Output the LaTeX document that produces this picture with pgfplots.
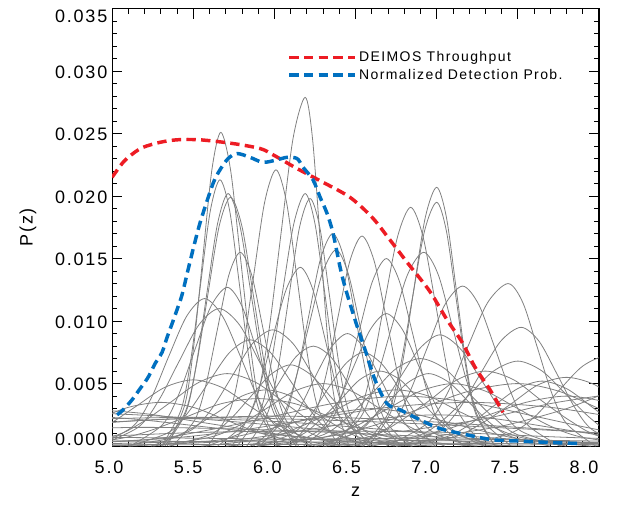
\documentclass[border=0pt]{standalone}
\usepackage{fontspec}
\setmainfont{Liberation Sans}[LetterSpace=10]
\usepackage{pgfplots}
\pgfplotsset{compat=1.18}
\definecolor{pzgray}{RGB}{128,128,128}
\definecolor{dred}{RGB}{237,28,36}
\definecolor{dblue}{RGB}{0,112,192}
\begin{document}
\begin{tikzpicture}
\begin{axis}[
  scale only axis, width=365pt, height=328pt,
  xmin=5, xmax=8, ymin=0, ymax=0.035,
  xtick={5,5.5,6,6.5,7,7.5,8},
  ytick={0,0.005,0.01,0.015,0.02,0.025,0.03,0.035},
  minor x tick num=4, minor y tick num=4,
  tick align=inside, tick pos=both,
  major tick length=7.5pt, minor tick length=3.8pt,
  every tick/.style={black, line width=0.6pt},
  axis line style={black, line width=0.8pt},
  scaled y ticks=false,
  /pgf/number format/assume math mode=true,
  xticklabel style={/pgf/number format/.cd, fixed, fixed zerofill, precision=1, /tikz/.cd, yshift=-7.5pt, xshift={(-2.25-1.5*\ticknum)*1pt}},
  yticklabel style={/pgf/number format/.cd, fixed, fixed zerofill, precision=3, /tikz/.cd, yshift={ifthenelse(\ticknum==0,4.9,ifthenelse(\ticknum==7,-6,-0.75))*1pt}},
  ticklabel style={font=\fontsize{13.5}{16}\selectfont},
  xlabel={z}, ylabel={P(z)},
  label style={font=\fontsize{13.5}{16}\selectfont},
  xlabel style={at={(axis description cs:0.5,-0.105)}, anchor=center},
  ylabel style={at={(axis description cs:-0.1725,0.5)}, anchor=center, rotate=0},
  legend style={draw=none, fill=none, at={(axis cs:6.08,0.0318)}, anchor=north west,
    font=\fontsize{10.5}{12}\selectfont, row sep=0pt, inner sep=0pt},
  legend cell align=left,
  legend image code/.code={\path (0pt,0pt) -- (49pt,0pt);\draw[#1] (0pt,0pt) -- (39pt,0pt);},
  pz/.style={color=pzgray, line width=0.6pt, smooth},
]
% ---- gray P(z) curves ----
\addplot[pz,forget plot] coordinates {(5.34,0)(5.45,.0034)(5.505,.0082)(5.56,.0152)(5.615,.0221)(5.67,.0251)(5.73,.0221)(5.79,.0152)(5.85,.0082)(5.91,.0034)(6.03,0)};
\addplot[pz,forget plot] coordinates {(5.305,0)(5.425,.0029)(5.485,.0069)(5.545,.0129)(5.605,.0188)(5.665,.0213)(5.725,.0188)(5.785,.0129)(5.845,.0069)(5.905,.0029)(6.025,0)};
\addplot[pz,forget plot] coordinates {(5.325,0)(5.455,.0027)(5.52,.0066)(5.585,.0123)(5.65,.0178)(5.715,.0202)(5.785,.0178)(5.855,.0123)(5.925,.0066)(5.995,.0027)(6.135,0)};
\addplot[pz,forget plot] coordinates {(5.31,0)(5.45,.0027)(5.52,.0065)(5.59,.0121)(5.66,.0176)(5.73,.0199)(5.80,.0176)(5.87,.0121)(5.94,.0065)(6.01,.0027)(6.15,0)};
\addplot[pz,forget plot] coordinates {(5.37,0)(5.51,.0021)(5.58,.0050)(5.65,.0094)(5.72,.0137)(5.79,.0155)(5.86,.0137)(5.93,.0094)(6.00,.0050)(6.07,.0021)(6.21,0)};
\addplot[pz,forget plot] coordinates {(5.11,0)(5.31,.0017)(5.41,.0041)(5.51,.0077)(5.61,.0112)(5.71,.0127)(5.80,.0112)(5.89,.0077)(5.98,.0041)(6.07,.0017)(6.25,0)};
\addplot[pz,forget plot] coordinates {(5.59,0)(5.73,.0030)(5.80,.0072)(5.87,.0134)(5.94,.0195)(6.01,.0221)(6.075,.0195)(6.14,.0134)(6.205,.0072)(6.27,.0030)(6.40,0)};
\addplot[pz,forget plot] coordinates {(5.74,0)(5.89,.0038)(5.965,.0091)(6.04,.0169)(6.115,.0246)(6.19,.0279)(6.235,.0246)(6.28,.0169)(6.325,.0091)(6.37,.0038)(6.46,0)};
\addplot[pz,forget plot] coordinates {(5.77,0)(5.91,.0027)(5.98,.0066)(6.05,.0123)(6.12,.0178)(6.19,.0202)(6.25,.0178)(6.31,.0123)(6.37,.0066)(6.43,.0027)(6.55,0)};
\addplot[pz,forget plot] coordinates {(5.83,0)(5.96,.0027)(6.025,.0064)(6.09,.0120)(6.155,.0175)(6.22,.0198)(6.28,.0175)(6.34,.0120)(6.40,.0064)(6.46,.0027)(6.58,0)};
\addplot[pz,forget plot] coordinates {(5.65,0)(5.82,.0019)(5.905,.0046)(5.99,.0087)(6.075,.0126)(6.16,.0143)(6.235,.0126)(6.31,.0087)(6.385,.0046)(6.46,.0019)(6.61,0)};
\addplot[pz,forget plot] coordinates {(5.91,0)(6.06,.0023)(6.135,.0055)(6.21,.0103)(6.285,.0150)(6.36,.0170)(6.43,.0150)(6.50,.0103)(6.57,.0055)(6.64,.0023)(6.78,0)};
\addplot[pz,forget plot] coordinates {(5.87,0)(6.04,.0021)(6.125,.0051)(6.21,.0095)(6.295,.0138)(6.38,.0157)(6.455,.0138)(6.53,.0095)(6.605,.0051)(6.68,.0021)(6.83,0)};
\addplot[pz,forget plot] coordinates {(6.09,0)(6.24,.0023)(6.315,.0055)(6.39,.0102)(6.465,.0148)(6.54,.0168)(6.615,.0148)(6.69,.0102)(6.765,.0055)(6.84,.0023)(6.99,0)};
\addplot[pz,forget plot] coordinates {(6.18,0)(6.35,.0020)(6.435,.0049)(6.52,.0091)(6.605,.0132)(6.69,.0150)(6.77,.0132)(6.85,.0091)(6.93,.0049)(7.01,.0020)(7.17,0)};
\addplot[pz,forget plot] coordinates {(6.36,0)(6.52,.0026)(6.60,.0062)(6.68,.0116)(6.76,.0168)(6.84,.0191)(6.915,.0168)(6.99,.0116)(7.065,.0062)(7.14,.0026)(7.29,0)};
\addplot[pz,forget plot] coordinates {(6.58,0)(6.72,.0028)(6.79,.0067)(6.86,.0126)(6.93,.0183)(7.00,.0207)(7.06,.0183)(7.12,.0126)(7.18,.0067)(7.24,.0028)(7.36,0)};
\addplot[pz,forget plot] coordinates {(6.55,0)(6.70,.0026)(6.775,.0063)(6.85,.0118)(6.925,.0172)(7.00,.0195)(7.06,.0172)(7.12,.0118)(7.18,.0063)(7.24,.0026)(7.36,0)};
\addplot[pz,forget plot] coordinates {(6.32,0)(6.52,.0021)(6.62,.0050)(6.72,.0094)(6.82,.0137)(6.92,.0155)(7.01,.0137)(7.10,.0094)(7.19,.0050)(7.28,.0021)(7.46,0)};
\addplot[pz,forget plot] coordinates {(6.50,0)(6.72,.0017)(6.83,.0042)(6.94,.0078)(7.05,.0113)(7.16,.0128)(7.26,.0113)(7.36,.0078)(7.46,.0042)(7.56,.0017)(7.76,0)};
\addplot[pz,forget plot] coordinates {(6.69,0)(6.94,.0018)(7.065,.0042)(7.19,.0079)(7.315,.0115)(7.44,.0130)(7.53,.0115)(7.62,.0079)(7.71,.0042)(7.80,.0018)(7.98,0)};
\addplot[pz,forget plot] coordinates {(4.91,0)(5.13,.0016)(5.24,.0038)(5.35,.0072)(5.46,.0104)(5.57,.0118)(5.68,.0104)(5.79,.0072)(5.90,.0038)(6.01,.0016)(6.23,0)};
\addplot[pz,forget plot] coordinates {(6.77,0)(7.02,.0013)(7.145,.0031)(7.27,.0058)(7.395,.0084)(7.52,.0095)(7.63,.0084)(7.74,.0058)(7.85,.0031)(7.96,.0013)(8.18,0)};
\addplot[pz,forget plot] coordinates {(6.27,0)(6.52,.0012)(6.645,.0029)(6.77,.0054)(6.895,.0078)(7.02,.0089)(7.145,.0078)(7.27,.0054)(7.395,.0029)(7.52,.0012)(7.77,0)};
\addplot[pz,forget plot] coordinates {(6.60,0)(6.90,.0009)(7.05,.0022)(7.20,.0041)(7.35,.0060)(7.50,.0068)(7.65,.0060)(7.80,.0041)(7.95,.0022)(8.10,.0009)(8.40,0)};
\addplot[pz,forget plot] coordinates {(7.15,0)(7.45,.0010)(7.60,.0023)(7.75,.0044)(7.90,.0064)(8.05,.0072)(8.20,.0064)(8.35,.0044)};
\addplot[pz,forget plot] coordinates {(4.91,0)(5.16,.0015)(5.285,.0036)(5.41,.0067)(5.535,.0097)(5.66,.0110)(5.785,.0097)(5.91,.0067)(6.035,.0036)(6.16,.0015)(6.41,0)};
\addplot[pz,forget plot] coordinates {(5.24,0)(5.49,.0013)(5.615,.0030)(5.74,.0056)(5.865,.0082)(5.99,.0093)(6.115,.0082)(6.24,.0056)(6.365,.0030)(6.49,.0013)(6.74,0)};
\addplot[pz,forget plot] coordinates {(5.10,0)(5.35,.0011)(5.475,.0028)(5.60,.0052)(5.725,.0075)(5.85,.0085)(5.975,.0075)(6.10,.0052)(6.225,.0028)(6.35,.0011)(6.60,0)};
\addplot[pz,forget plot] coordinates {(4.66,0)(5.01,.0008)(5.185,.0019)(5.36,.0035)(5.535,.0051)(5.71,.0058)(5.885,.0051)(6.06,.0035)(6.235,.0019)(6.41,.0008)(6.76,0)};
\addplot[pz,forget plot] coordinates {(4.45,0)(4.80,.0007)(4.975,.0017)(5.15,.0032)(5.325,.0047)(5.50,.0053)(5.675,.0047)(5.85,.0032)(6.025,.0017)(6.20,.0007)(6.55,0)};
\addplot[pz,forget plot] coordinates {(6.09,0)(6.29,.0014)(6.39,.0034)(6.49,.0064)(6.59,.0093)(6.69,.0106)(6.79,.0093)(6.89,.0064)(6.99,.0034)(7.09,.0014)(7.29,0)};
\addplot[pz,forget plot] coordinates {(5.58,0)(5.80,.0011)(5.91,.0026)(6.02,.0049)(6.13,.0071)(6.24,.0080)(6.35,.0071)(6.46,.0049)(6.57,.0026)(6.68,.0011)(6.90,0)};
\addplot[pz,forget plot] coordinates {(5.90,0)(6.15,.0008)(6.275,.0020)(6.40,.0036)(6.525,.0053)(6.65,.0060)(6.775,.0053)(6.90,.0036)(7.025,.0020)(7.15,.0008)(7.40,0)};
\addplot[pz,forget plot] coordinates {(5.85,0)(6.05,.0012)(6.15,.0029)(6.25,.0055)(6.35,.0079)(6.45,.0090)(6.55,.0079)(6.65,.0055)(6.75,.0029)(6.85,.0012)(7.05,0)};
\addplot[pz,forget plot] coordinates {(6.00,0)(6.30,.0009)(6.45,.0023)(6.60,.0042)(6.75,.0062)(6.90,.0070)(7.05,.0062)(7.20,.0042)(7.35,.0023)(7.50,.0009)(7.80,0)};
\addplot[pz,forget plot] coordinates {(6.25,0)(6.60,.0008)(6.775,.0020)(6.95,.0036)(7.125,.0053)(7.30,.0060)(7.475,.0053)(7.65,.0036)(7.825,.0020)(8.00,.0008)(8.35,0)};
\addplot[pz,forget plot] coordinates {(5.35,0)(5.60,.0009)(5.725,.0021)(5.85,.0039)(5.975,.0057)(6.10,.0065)(6.225,.0057)(6.35,.0039)(6.475,.0021)(6.60,.0009)(6.85,0)};
\addplot[pz,forget plot] coordinates {(5.55,0)(5.95,.0006)(6.15,.0015)(6.35,.0027)(6.55,.0040)(6.75,.0045)(6.95,.0040)(7.15,.0027)(7.35,.0015)(7.55,.0006)(7.95,0)};
\addplot[pz,forget plot] coordinates {(6.75,0)(7.10,.0007)(7.275,.0018)(7.45,.0033)(7.625,.0049)(7.80,.0055)(7.975,.0049)(8.15,.0033)};
\addplot[pz,forget plot] coordinates {(5.25,0)(5.60,.0007)(5.775,.0016)(5.95,.0030)(6.125,.0044)(6.30,.0050)(6.475,.0044)(6.65,.0030)(6.825,.0016)(7.00,.0007)(7.35,0)};
\addplot[pz,forget plot] coordinates {(4.10,0)(4.50,.0005)(4.70,.0011)(4.90,.0021)(5.10,.0031)(5.30,.0035)(5.50,.0031)(5.70,.0021)(5.90,.0011)(6.10,.0005)(6.50,0)};
\addplot[pz,forget plot] coordinates {(5.90,0)(6.30,.0007)(6.50,.0016)(6.70,.0030)(6.90,.0044)(7.10,.0050)(7.30,.0044)(7.50,.0030)(7.70,.0016)(7.90,.0007)(8.30,0)};
\addplot[pz,forget plot] coordinates {(6.20,0)(6.45,.0008)(6.575,.0019)(6.70,.0035)(6.825,.0051)(6.95,.0058)(7.075,.0051)(7.20,.0035)(7.325,.0019)(7.45,.0008)(7.70,0)};
\addplot[pz,forget plot] coordinates {(5.89,0)(6.11,.0010)(6.22,.0024)(6.33,.0046)(6.44,.0066)(6.55,.0075)(6.66,.0066)(6.77,.0046)(6.88,.0024)(6.99,.0010)(7.21,0)};
\addplot[pz,forget plot] coordinates {(6.75,0)(7.05,.0007)(7.20,.0017)(7.35,.0032)(7.50,.0046)(7.65,.0052)(7.80,.0046)(7.95,.0032)(8.10,.0017)};
\addplot[pz,forget plot] coordinates {(5.05,0)(5.35,.0006)(5.50,.0015)(5.65,.0027)(5.80,.0040)(5.95,.0045)(6.10,.0040)(6.25,.0027)(6.40,.0015)(6.55,.0006)(6.85,0)};
\addplot[pz,forget plot] coordinates {(3.75,.0008)(4.5,.0015)(5.25,.0021)(6.0,.0024)(6.75,.0021)(7.5,.0015)(8.25,.0008)(9.0,.0003)};
\addplot[pz,forget plot] coordinates {(4.0,.0007)(4.5,.0013)(5.0,.0019)(5.5,.0022)(6.1,.0019)(6.7,.0013)(7.3,.0007)(7.9,.0003)(9.1,0)};
\addplot[pz,forget plot] coordinates {(4.4,0)(5.2,.0005)(5.6,.0013)(6.0,.0024)(6.4,.0035)(6.8,.0040)(7.2,.0035)(7.6,.0024)(8.0,.0013)(8.4,.0005)};
\addplot[pz,forget plot] coordinates {(5.7,0)(6.3,.0007)(6.6,.0016)(6.9,.0030)(7.2,.0044)(7.5,.0050)(7.75,.0044)(8.0,.0030)(8.25,.0016)};
\addplot[pz,forget plot] coordinates {(4.2,0)(5.2,.0005)(5.7,.0011)(6.2,.0021)(6.7,.0031)(7.2,.0035)(7.7,.0031)(8.2,.0021)(8.7,.0011)};
\addplot[pz,forget plot] coordinates {(4.2,.0009)(4.7,.0013)(5.2,.0015)(5.95,.0013)(6.7,.0009)(7.45,.0005)(8.2,.0002)(9.7,0)};
\addplot[pz,forget plot] coordinates {(4.05,.0004)(4.8,.0007)(5.55,.0011)(6.3,.0012)(7.05,.0011)(7.8,.0007)(8.55,.0004)};
\addplot[pz,forget plot] coordinates {(6.3,0)(6.8,.0005)(7.05,.0013)(7.3,.0024)(7.55,.0035)(7.8,.0040)(8.05,.0035)(8.3,.0024)};
\addplot[pz,forget plot] coordinates {(5.1,0)(5.6,.0004)(5.85,.0010)(6.1,.0018)(6.35,.0026)(6.6,.0030)(6.85,.0026)(7.1,.0018)(7.35,.0010)(7.6,.0004)(8.1,0)};
\addplot[pz,forget plot] coordinates {(4.55,0)(5.0,.0005)(5.225,.0012)(5.45,.0023)(5.675,.0034)(5.9,.0038)(6.125,.0034)(6.35,.0023)(6.575,.0012)(6.8,.0005)(7.25,0)};
\addplot[pz,forget plot] coordinates {(4.9,0)(5.6,.0003)(5.95,.0008)(6.3,.0015)(6.65,.0022)(7.0,.0025)(7.35,.0022)(7.7,.0015)(8.05,.0008)(8.4,.0003)};
\addplot[pz,forget plot] coordinates {(3.6,.0015)(4.1,.0022)(4.6,.0025)(5.1,.0022)(5.6,.0015)(6.1,.0008)(6.6,.0003)(7.6,0)};
\addplot[pz,forget plot] coordinates {(3.5,.0014)(4.5,.0020)(5.5,.0023)(6.5,.0020)(7.5,.0014)(8.5,.0007)};
\addplot[pz,forget plot] coordinates {(4.8,.0030)(5.2,.0026)(5.6,.0018)(6.0,.0010)(6.4,.0004)(7.0,0)};
\addplot[pz,forget plot] coordinates {(4.8,.0027)(5.3,.0024)(5.8,.0019)(6.3,.0013)(6.8,.0007)(7.4,.0002)};
\addplot[pz,forget plot] coordinates {(7.0,.0008)(7.4,.0016)(7.8,.0030)(8.1,.0046)};
\addplot[pz,forget plot] coordinates {(6.8,.0012)(7.3,.0022)(7.7,.0034)(8.1,.0042)};
\addplot[pz,forget plot] coordinates {(5,.0001)(8,.0002)};
\addplot[pz,forget plot] coordinates {(5,.0004)(6.5,.0003)(8,.0001)};
\addplot[pz,forget plot] coordinates {(5,.0007)(6.5,.0005)(8,.0003)};
\addplot[pz,forget plot] coordinates {(5,.0002)(6.5,.0006)(8,.0004)};
% ---- throughput and detection probability ----
\addplot[dred, line width=2.6pt, dash pattern=on 7pt off 4pt, smooth] coordinates {
(5.000,0.0215)(5.068,0.0227)(5.129,0.0234)(5.191,0.0239)(5.296,0.0243)(5.400,0.0245)
(5.542,0.0245)(5.746,0.0242)(5.912,0.0238)(5.992,0.0233)(6.140,0.0222)(6.300,0.0211)
(6.466,0.0199)(6.602,0.0183)(6.700,0.0167)(6.818,0.0147)(6.916,0.0131)(6.972,0.0121)
(7.064,0.0101)(7.157,0.0083)(7.237,0.0063)(7.329,0.0045)(7.409,0.0027)};
\addlegendentry{DEIMOS Throughput}
\addplot[dblue, line width=2.6pt, dash pattern=on 7pt off 4pt, smooth] coordinates {
(5.031,0.0025)(5.068,0.0029)(5.123,0.0037)(5.173,0.0046)(5.222,0.0055)(5.265,0.0066)
(5.308,0.0075)(5.339,0.0087)(5.370,0.0098)(5.400,0.0109)(5.431,0.0121)
(5.470,0.0142)(5.510,0.0163)(5.550,0.0182)
(5.622,0.0210)(5.665,0.0221)(5.715,0.0230)(5.770,0.0234)(5.850,0.0231)(5.930,0.0227)
(6.017,0.0229)(6.078,0.0231)(6.140,0.0230)(6.177,0.0223)(6.238,0.0213)(6.282,0.0199)
(6.325,0.0186)(6.362,0.0170)(6.405,0.0143)(6.436,0.0127)(6.497,0.0101)(6.559,0.0077)
(6.620,0.0053)(6.694,0.0034)(6.775,0.0029)(6.898,0.0021)(7.021,0.0014)(7.187,0.0009)
(7.348,0.0005)(7.514,0.0004)(7.680,0.0003)(7.883,0.0002)};
\addlegendentry{Normalized Detection Prob.}
\end{axis}
\pgfresetboundingbox
\path ([xshift=-84pt, yshift=-43.5pt]current axis.south west) rectangle ([xshift=32.25pt, yshift=6.4pt]current axis.north east);
\end{tikzpicture}
\end{document}
